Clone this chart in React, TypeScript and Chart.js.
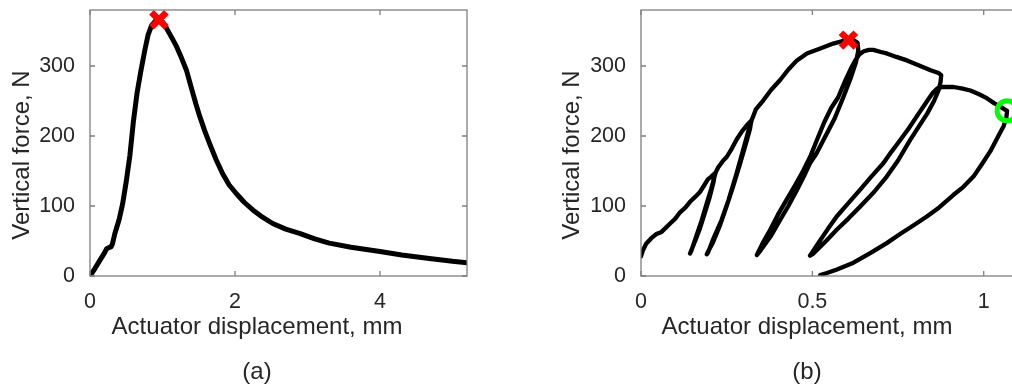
import React, { useEffect, useRef } from 'react';
import { Chart, registerables } from 'chart.js';

Chart.register(...registerables);

// ---------- text ----------
const X_TITLE = 'Actuator displacement, mm';
const Y_TITLE = 'Vertical force, N';
const CAPTION_A = '(a)';
const CAPTION_B = '(b)';

// ---------- ticks ----------
const A_X_TICKS = [0, 2, 4];
const B_X_TICKS = [0, 0.5, 1];
const Y_TICKS = [0, 100, 200, 300];

// ---------- panel (a) data ----------
const A_DISP = [
  0, 0.07, 0.138, 0.2, 0.23, 0.27, 0.29, 0.31, 0.344, 0.4, 0.45, 0.5, 0.55, 0.6,
  0.65, 0.7, 0.757, 0.8, 0.85, 0.9, 0.95, 1.0, 1.055, 1.12, 1.193, 1.26, 1.33,
  1.4, 1.46, 1.514, 1.58, 1.65, 1.74, 1.83, 1.92, 2.02, 2.13, 2.25, 2.38, 2.52,
  2.7, 2.89, 3.1, 3.3, 3.6, 4.0, 4.3, 4.68, 5.0, 5.2,
];
const A_FORCE = [
  0, 11, 22.7, 33, 39, 41, 41.7, 46, 61, 80, 103, 135, 172, 222,
  262, 292, 323, 344, 358, 364, 366, 363, 354, 342, 328, 312, 294,
  268, 246, 228, 208, 189, 166, 146, 130, 117.5, 105, 94, 84, 75,
  67, 61, 53, 47, 41, 35, 30, 25, 21, 19,
];
const A_PEAK_DISP = [0.95];
const A_PEAK_FORCE = [366];

// ---------- panel (b) data ----------
const B_DISP = [
  // initial loading
  0.000, 0.005, 0.015, 0.030, 0.045, 0.060, 0.085, 0.100, 0.114, 0.130, 0.143, 0.158, 0.172, 0.185, 0.195, 0.205, 0.216,
  // unload 1
  0.212, 0.200, 0.185, 0.172, 0.158, 0.148, 0.143,
  // reload 1
  0.147, 0.160, 0.176, 0.192, 0.205, 0.218,
  // envelope
  0.225, 0.240, 0.250, 0.265, 0.279, 0.295, 0.310, 0.322,
  // unload 2
  0.318, 0.309, 0.290, 0.270, 0.250, 0.231, 0.210, 0.197, 0.192,
  // reload 2
  0.196, 0.210, 0.235, 0.255, 0.275, 0.295, 0.312, 0.324,
  // envelope to peak
  0.335, 0.357, 0.380, 0.406, 0.430, 0.455, 0.484, 0.523, 0.561, 0.591, 0.620, 0.632,
  // unload 3
  0.634, 0.627, 0.612, 0.590, 0.565, 0.532, 0.512, 0.493, 0.475, 0.455, 0.430, 0.406, 0.380, 0.357, 0.345, 0.338,
  // reload 3
  0.342, 0.355, 0.377, 0.400, 0.425, 0.450, 0.474, 0.495, 0.513, 0.535, 0.555, 0.575, 0.595, 0.612, 0.625, 0.638, 0.650,
  // envelope 4
  0.665, 0.678, 0.700, 0.717, 0.745, 0.776, 0.815, 0.845, 0.868, 0.876,
  // unload 4
  0.874, 0.868, 0.855, 0.835, 0.810, 0.785, 0.750, 0.717, 0.680, 0.639, 0.605, 0.571, 0.540, 0.515, 0.503, 0.493,
  // reload 4
  0.497, 0.508, 0.523, 0.545, 0.571, 0.605, 0.639, 0.672, 0.707, 0.730, 0.750, 0.780, 0.810, 0.835, 0.852, 0.865, 0.880,
  // envelope 5
  0.893, 0.912, 0.935, 0.961, 0.985, 1.009, 1.030, 1.048, 1.068,
  // final unload
  1.066, 1.058, 1.048, 1.035, 1.019, 0.995, 0.970, 0.940, 0.912, 0.870, 0.834, 0.800, 0.756, 0.717, 0.670, 0.620, 0.570, 0.540, 0.523,
];
const B_FORCE = [
  28, 36, 46, 54, 60, 63, 75, 82, 91, 98, 106, 113, 120, 130, 138, 142, 147,
  135, 112, 88, 68, 50, 38, 32,
  36, 55, 78, 104, 125, 148,
  155, 165, 170, 182, 195, 207, 216, 222,
  210, 194, 162, 130, 100, 73, 48, 36, 31,
  34, 52, 80, 108, 140, 175, 205, 224,
  238, 251, 266, 280, 295, 308, 318, 325, 332, 336, 337, 333,
  322, 305, 283, 255, 225, 194, 175, 161, 142, 123, 100, 80, 58, 42, 34, 30,
  34, 47, 66, 88, 109, 130, 151, 172, 194, 220, 240, 255, 278, 296, 308, 317, 321,
  323, 323, 320, 318, 313, 308, 300, 294, 290, 287,
  277, 265, 250, 232, 213, 194, 165, 142, 120, 99, 82, 66, 50, 38, 32, 29,
  32, 40, 51, 67, 85, 104, 123, 142, 161, 177, 190, 210, 232, 250, 262, 268, 270,
  270, 270, 268, 265, 260, 254, 247, 242, 236,
  226, 214, 205, 193, 178, 160, 142, 127, 116, 98, 85, 74, 60, 47, 33, 19, 9, 4, 1.5,
];
const B_PEAK_DISP = [0.605];
const B_PEAK_FORCE = [337];
const B_END_DISP = [1.068];
const B_END_FORCE = [236];

// ---------- style ----------
const FONT = '"Liberation Sans", Arial, Helvetica, sans-serif';
const TEXT_COLOR = '#262626';
const AXIS_COLOR = '#7f7f7f';
const TICK_LEN = 5;

const toPts = (xs: number[], ys: number[]) => xs.map((x, i) => ({ x, y: ys[i] }));

const framePlugin = {
  id: 'matlabFrame',
  afterDatasetsDraw(chart: any) {
    const { ctx, chartArea, scales } = chart;
    const { left, right, top, bottom } = chartArea;
    ctx.save();
    ctx.strokeStyle = AXIS_COLOR;
    ctx.lineWidth = 1.3;
    ctx.strokeRect(left, top, right - left, bottom - top);
    ctx.beginPath();
    scales.x.ticks.forEach((t: any) => {
      const px = scales.x.getPixelForValue(t.value);
      ctx.moveTo(px, bottom);
      ctx.lineTo(px, bottom - TICK_LEN);
      ctx.moveTo(px, top);
      ctx.lineTo(px, top + TICK_LEN);
    });
    scales.y.ticks.forEach((t: any) => {
      const py = scales.y.getPixelForValue(t.value);
      ctx.moveTo(left, py);
      ctx.lineTo(left + TICK_LEN, py);
      ctx.moveTo(right, py);
      ctx.lineTo(right - TICK_LEN, py);
    });
    ctx.stroke();
    ctx.restore();
  },
};

function textPlugin(t: { xTitleX: number; xTitleY: number; captionY: number; caption: string; yTitleX: number; yTitleY: number }) {
  return {
    id: 'panelText',
    afterDraw(chart: any) {
      const ctx = chart.ctx;
      ctx.save();
      ctx.fillStyle = TEXT_COLOR;
      ctx.font = `24px ${FONT}`;
      ctx.textAlign = 'center';
      ctx.textBaseline = 'alphabetic';
      ctx.fillText(X_TITLE, t.xTitleX, t.xTitleY);
      ctx.fillText(t.caption, t.xTitleX, t.captionY);
      ctx.translate(t.yTitleX, t.yTitleY);
      ctx.rotate(-Math.PI / 2);
      ctx.fillText(Y_TITLE, 0, 0);
      ctx.restore();
    },
  };
}

type Panel = {
  disp: number[];
  force: number[];
  lineWidth: number;
  xMax: number;
  xTicks: number[];
  yAxisWidth: number;
  padRight: number;
  markers: any[];
  text: any;
};

function makeConfig(p: Panel): any {
  return {
    type: 'scatter',
    data: {
      datasets: [
        ...p.markers,
        {
          data: toPts(p.disp, p.force),
          showLine: true,
          borderColor: '#000000',
          borderWidth: p.lineWidth,
          borderJoinStyle: 'round',
          borderCapStyle: 'round',
          pointRadius: 0,
          tension: 0,
        },
      ],
    },
    options: {
      animation: false,
      responsive: false,
      events: [],
      layout: { autoPadding: false, padding: { left: 0, top: 10, right: p.padRight, bottom: 0 } },
      plugins: { legend: { display: false }, tooltip: { enabled: false } },
      scales: {
        x: {
          type: 'linear',
          min: 0,
          max: p.xMax,
          grid: { display: false, drawTicks: false },
          border: { display: false },
          ticks: {
            padding: 13,
            color: TEXT_COLOR,
            font: { family: FONT, size: 21.5 },
            maxRotation: 0,
            callback: (v: any) => String(v),
          },
          afterBuildTicks: (s: any) => {
            s.ticks = p.xTicks.map((v) => ({ value: v }));
          },
          afterFit: (s: any) => {
            s.height = 387 - 276;
            s.paddingLeft = 0;
            s.paddingRight = 0;
            s.paddingTop = 0;
            s.paddingBottom = 0;
          },
        },
        y: {
          type: 'linear',
          min: 0,
          max: 380,
          grid: { display: false, drawTicks: false },
          border: { display: false },
          ticks: {
            padding: 15,
            color: TEXT_COLOR,
            font: { family: FONT, size: 21.5 },
            callback: (v: any) => String(v),
          },
          afterBuildTicks: (s: any) => {
            s.ticks = Y_TICKS.map((v) => ({ value: v }));
          },
          afterFit: (s: any) => {
            s.width = p.yAxisWidth;
            s.paddingLeft = 0;
            s.paddingRight = 0;
            s.paddingTop = 0;
            s.paddingBottom = 0;
          },
        },
      },
    },
    plugins: [framePlugin, textPlugin(p.text)],
  };
}

const redCross = (xs: number[], ys: number[]) => ({
  data: toPts(xs, ys),
  showLine: false,
  pointStyle: 'crossRot',
  pointRadius: 10.5,
  pointBorderWidth: 6.5,
  pointBorderColor: '#ff0000',
  pointBackgroundColor: '#ff0000',
  clip: false,
});

const greenRing = (xs: number[], ys: number[]) => ({
  data: toPts(xs, ys),
  showLine: false,
  pointStyle: 'circle',
  pointRadius: 10,
  pointBorderWidth: 5,
  pointBorderColor: '#00ff00',
  pointBackgroundColor: 'rgba(0,0,0,0)',
  clip: false,
});

function ChartCanvas({ config, width, height, left }: { config: any; width: number; height: number; left: number }) {
  const ref = useRef<HTMLCanvasElement | null>(null);
  useEffect(() => {
    if (!ref.current) return;
    const chart = new Chart(ref.current, config);
    return () => chart.destroy();
  }, [config]);
  return (
    <canvas
      ref={ref}
      width={width}
      height={height}
      style={{ position: 'absolute', left, top: 0, width, height }}
    />
  );
}

const configA = makeConfig({
  disp: A_DISP,
  force: A_FORCE,
  lineWidth: 5,
  xMax: 5.2,
  xTicks: A_X_TICKS,
  yAxisWidth: 90,
  padRight: 540 - 467,
  markers: [redCross(A_PEAK_DISP, A_PEAK_FORCE)],
  text: { xTitleX: 257, xTitleY: 334, captionY: 379, caption: CAPTION_A, yTitleX: 29, yTitleY: 155 },
});

const configB = makeConfig({
  disp: B_DISP,
  force: B_FORCE,
  lineWidth: 4.3,
  xMax: 1.1,
  xTicks: B_X_TICKS,
  yAxisWidth: 101,
  padRight: 22,
  markers: [redCross(B_PEAK_DISP, B_PEAK_FORCE), greenRing(B_END_DISP, B_END_FORCE)],
  text: { xTitleX: 267, xTitleY: 334, captionY: 379, caption: CAPTION_B, yTitleX: 39, yTitleY: 155 },
});

export default function App() {
  return (
    <div
      style={{
        position: 'fixed',
        left: 0,
        top: 0,
        width: 1012,
        height: 387,
        overflow: 'hidden',
        background: '#ffffff',
      }}
    >
      <ChartCanvas config={configA} width={540} height={387} left={0} />
      <ChartCanvas config={configB} width={500} height={387} left={540} />
    </div>
  );
}
